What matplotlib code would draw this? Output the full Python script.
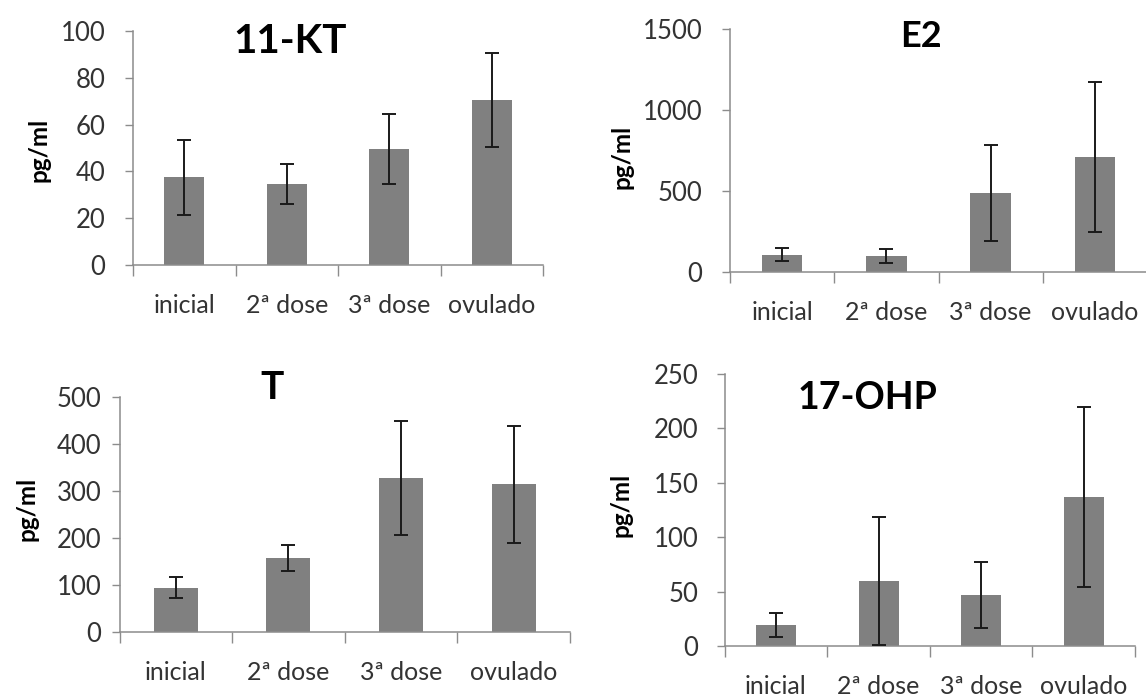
import matplotlib
matplotlib.use("Agg")
import matplotlib.pyplot as plt
import numpy as np

plt.rcParams['font.family'] = ['Lato', 'DejaVu Sans']

# categories and values
categories = ["inicial", "2ª dose", "3ª dose", "ovulado"]

kt_mean = [37.5, 34.5, 49.5, 70.5]
kt_err = [16, 8.5, 15, 20]

e2_mean = [108, 97, 488, 711]
e2_err = [40, 42, 295, 462]

t_mean = [94, 157, 327, 314]
t_err = [22, 28, 121, 124]

ohp_mean = [19.5, 60, 47, 137]
ohp_err = [11, 59, 30, 83]

W, H = 1146, 698
fig = plt.figure(figsize=(W / 100, H / 100), dpi=100)

BAR = "#808080"
SPINE = "#8c8c8c"
TXT = "#333333"


def px_axes(left, right, top, bottom):
    return fig.add_axes([left / W, 1 - bottom / H, (right - left) / W, (bottom - top) / H])


def panel(box, means, errs, ymax, ystep, title, title_xy, title_size, ylab_xy, ypad):
    ax = px_axes(*box)
    x = np.arange(len(categories)) + 0.5
    ax.bar(x, means, width=0.39, color=BAR, zorder=1)
    ax.errorbar(x, means, yerr=errs, fmt="none", ecolor="#1a1a1a",
                elinewidth=1.4, capsize=5, capthick=1.4, zorder=3)
    ax.set_xlim(0, len(categories))
    ax.set_ylim(0, ymax)
    ax.set_yticks(np.arange(0, ymax + 1, ystep))
    ax.set_xticks(np.arange(len(categories) + 1))
    ax.set_xticklabels([])
    ax.set_xticks(x, minor=True)
    ax.set_xticklabels(categories, minor=True)
    ax.tick_params(axis="x", which="major", direction="out", length=8, width=1, color=SPINE)
    ax.tick_params(axis="x", which="minor", length=0, pad=21, labelsize=18, labelcolor=TXT)
    ax.tick_params(axis="y", direction="out", length=6, width=1, color=SPINE,
                   pad=ypad, labelsize=18.5, labelcolor=TXT)
    for s in ["top", "right"]:
        ax.spines[s].set_visible(False)
    for s in ["left", "bottom"]:
        ax.spines[s].set_color(SPINE)
        ax.spines[s].set_linewidth(1.1)
        ax.spines[s].set_zorder(2)
    fig.text(title_xy[0] / W, 1 - title_xy[1] / H, title, ha="center", va="baseline",
             fontsize=title_size, fontweight="bold", color="black")
    fig.text(ylab_xy[0] / W, 1 - ylab_xy[1] / H, "pg/ml", rotation=90, ha="center",
             va="center", fontsize=17.5, fontweight="bold", color="black")
    return ax


panel((133, 543, 31, 265), kt_mean, kt_err, 100, 20, "11-KT", (290, 53), 29, (39, 150), 14)
panel((730, 1147, 29, 272), e2_mean, e2_err, 1500, 500, "E2", (921, 47), 26, (622, 157), 14)
panel((119.5, 570, 397, 632), t_mean, t_err, 500, 100, "T", (272, 399), 28, (27, 509), 7)
panel((724.7, 1135, 374, 646), ohp_mean, ohp_err, 250, 50, "17-OHP", (868, 409), 27, (621, 505), 13)

fig.savefig("out.png", dpi=100, facecolor="white")
